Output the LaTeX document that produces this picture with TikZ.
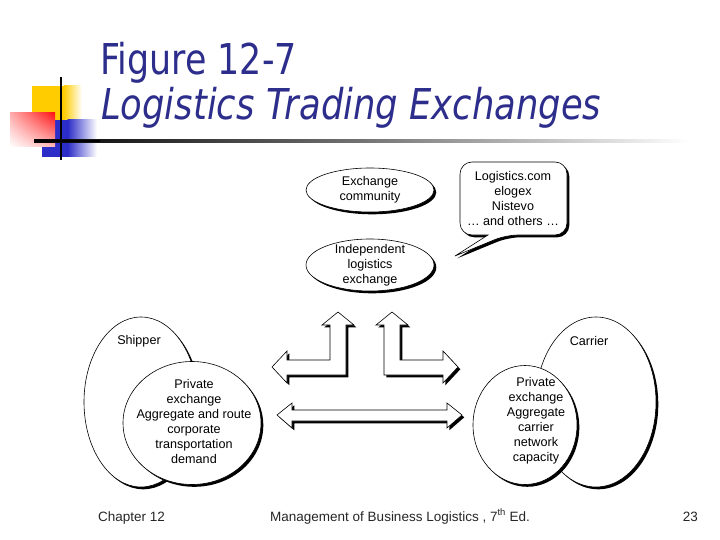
\documentclass[tikz,border=0pt]{standalone}
\usepackage{fontspec}
\setmainfont{Liberation Sans}
\newfontfamily\titlefont{DejaVu Sans}
\usetikzlibrary{shapes.geometric,shadows,shadings}
\definecolor{titleblue}{RGB}{45,45,140}
\definecolor{decoyellow}{RGB}{255,204,0}
\definecolor{decoblue}{RGB}{45,45,200}
\definecolor{decored}{RGB}{255,20,20}
\tikzset{
  shad/.style={drop shadow={shadow xshift=2.3pt,shadow yshift=-2.3pt,fill=black,opacity=1}},
  ell/.style={ellipse, draw=black, line width=0.6pt, fill=white, shad, inner sep=0pt},
  txt/.style={align=center, font=\fontsize{12.6}{15}\selectfont, inner sep=0pt, text=black},
  blk/.style={draw=black, line width=0.6pt, fill=white, shad, line join=miter},
  foot/.style={font=\fontsize{13.5}{16}\selectfont, text=black!85, inner sep=0pt},
  ttl/.style={font=\titlefont\fontsize{42.5}{50}\selectfont, text=titleblue, inner sep=0pt, anchor=base west},
}
\begin{document}
\begin{tikzpicture}[x=1pt,y=-1pt]
\useasboundingbox (0,0) rectangle (720,540);
% decoration
\fill[decoyellow] (32,86) rectangle (64,120);
\shade[left color=decoyellow, right color=white] (63.5,86) rectangle (82,120);
\fill[decoblue] (42,120) rectangle (68,157);
\shade[left color=decoblue, right color=white] (67.5,120) rectangle (97,157);
\shade[upper right=decored, upper left=decored!35, lower left=white, lower right=decored!30] (10,113) rectangle (55,147);
\draw[line width=2.6pt, black] (61,77) -- (61,160);
\shade[left color=black, right color=white, middle color=black!55] (34,139.7) rectangle (690,142.3);
\fill[black] (34,139.7) rectangle (100,142.3);
% title
\node[ttl] (t1) at (100,75) {\scalebox{0.82}[1]{Figure 12-7}};
\node[ttl] (t2) at (101,120) {\scalebox{0.832}[1]{\itshape Logistics Trading Exchanges}};
% top ellipses
\node[ell, minimum width=128pt, minimum height=44pt] (exc) at (370,190) {};
\node[txt] (exct) at (exc) {Exchange\\community};
\node[ell, minimum width=128pt, minimum height=52pt] (ile) at (370,265) {};
\node[txt] (ilet) at (ile) {Independent\\logistics\\exchange};
% speech bubble
\draw[blk] (488,235) [rounded corners=12pt] -- (460,235) -- (460,162) -- (567,162) -- (567,235) -- (506,235) [sharp corners] -- (455,256) -- cycle;
\node[txt] (bub) at (513,198) {Logistics.com\\elogex\\Nistevo\\\dots\ and others \dots};
% shipper
\node[ell, minimum width=114pt, minimum height=170pt] (shipo) at (141,402) {};
\node[ell, minimum width=138pt, minimum height=123pt] (shipi) at (192,423) {};
\node[txt] (shipl) at (139,341) {Shipper};
\node[txt] (shipt) at (194,421) {Private\\exchange\\Aggregate and route\\corporate\\transportation\\demand};
% carrier
\node[ell, minimum width=120pt, minimum height=170pt] (caro) at (596,402) {};
\node[ell, minimum width=104pt, minimum height=119pt] (cari) at (525,425) {};
\node[txt] (carl) at (589,341) {Carrier};
\node[txt] (cart) at (536,421) {Private\\exchange\\Aggregate\\carrier\\network\\capacity};
% block arrows
\draw[blk] (272,367) -- (287,351) -- (287,360) -- (330,360) -- (330,325) -- (322,325) -- (338,312) -- (354,325) -- (346,325) -- (346,375) -- (287,375) -- (287,383) -- cycle;
\draw[blk] (458,367) -- (443,351) -- (443,360) -- (400,360) -- (400,325) -- (408,325) -- (392,312) -- (376,325) -- (384,325) -- (384,375) -- (443,375) -- (443,383) -- cycle;
\draw[blk] (277,415) -- (292,403) -- (292,410) -- (447,410) -- (447,403) -- (462,415) -- (447,428) -- (447,421) -- (292,421) -- (292,428) -- cycle;
% footer
\node[foot, anchor=base west] (f1) at (98,521) {Chapter 12};
\node[foot, anchor=base west] (f2) at (270,521) {Management of Business Logistics , 7\textsuperscript{th} Ed.};
\node[foot, anchor=base east] (f3) at (698,521) {23};
\end{tikzpicture}
\end{document}
